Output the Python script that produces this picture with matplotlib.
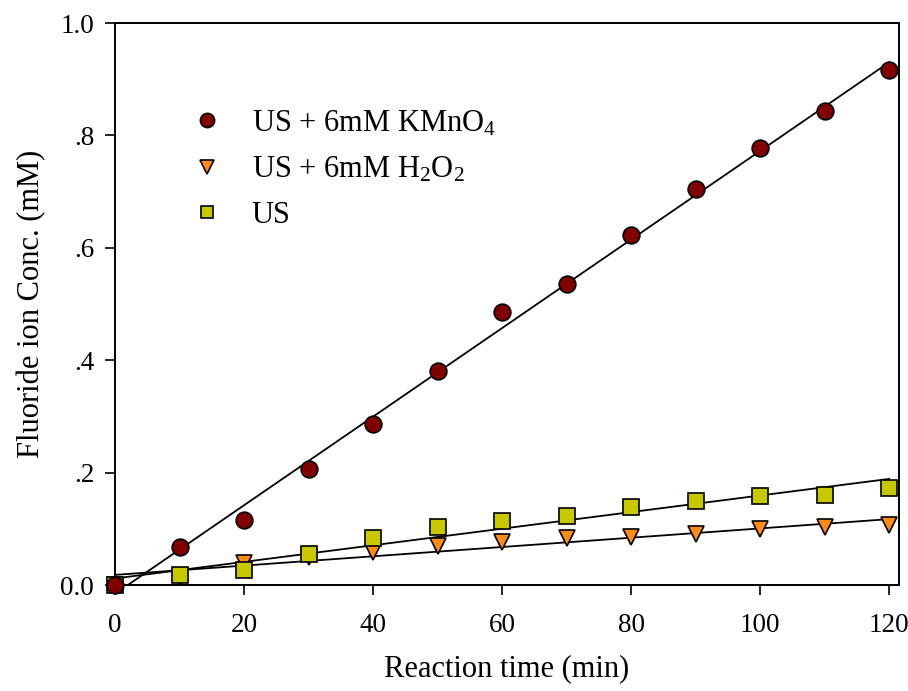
import numpy as np
import matplotlib
matplotlib.use("Agg")
import matplotlib.pyplot as plt

plt.rcParams['font.family'] = ['Liberation Serif', 'DejaVu Serif']
plt.rcParams['mathtext.fontset'] = 'custom'
plt.rcParams['mathtext.rm'] = 'Liberation Serif'
plt.rcParams['mathtext.it'] = 'Liberation Serif:italic'

time_min = [0, 10, 20, 30, 40, 50, 60, 70, 80, 90, 100, 110, 120]
kmno4 = [0.0, 0.068, 0.116, 0.206, 0.286, 0.381, 0.486, 0.536, 0.623, 0.705, 0.778, 0.843, 0.916]
h2o2 = [0.0, 0.015, 0.040, 0.050, 0.059, 0.069, 0.077, 0.084, 0.086, 0.090, 0.100, 0.103, 0.106]
us = [0.0, 0.018, 0.027, 0.055, 0.084, 0.103, 0.113, 0.123, 0.139, 0.149, 0.159, 0.161, 0.172]

labels = ['US + 6mM KMnO$_4$', 'US + 6mM H$_2$O$_2$', 'US']
colors = ['#800000', '#ff8c1a', '#c8c800']
markers = ['o', 'v', 's']
sizes = [12, 12, 11]
yticks = [0.0, 0.2, 0.4, 0.6, 0.8, 1.0]
ytick_labels = ['0.0', '.2', '.4', '.6', '.8', '1.0']
xticks = [0, 20, 40, 60, 80, 100, 120]

fig = plt.figure(figsize=(9.08, 6.91), dpi=100)
ax = fig.add_axes([0.1267, 0.1534, 0.8633, 0.8133])

x = np.array(time_min, dtype=float)
series_list = [kmno4, h2o2, us]

# fitted lines
xx = np.linspace(0, 120, 200)
for ys in series_list:
    p = np.polyfit(x, np.array(ys), 1)
    ax.plot(xx, np.polyval(p, xx), color='black', lw=1.3, zorder=2)

zorders = {0: 6, 1: 4, 2: 5}
handles = []
for i in range(3):
    h, = ax.plot(x, series_list[i], linestyle='none', marker=markers[i], markersize=sizes[i],
                 markerfacecolor=colors[i], markeredgecolor='black', markeredgewidth=1.2,
                 label=labels[i], zorder=zorders[i], clip_on=False)
    handles.append(h)

ax.set_xlim(0, 121.5)
ax.set_ylim(0, 1.0)
ax.set_xticks(xticks)
ax.set_yticks(yticks)
ax.set_yticklabels(ytick_labels)
ax.tick_params(axis='both', direction='out', length=7, width=1.2, labelsize=19.5)
ax.tick_params(axis='x', pad=13)
ax.tick_params(axis='y', pad=8)
for sp in ax.spines.values():
    sp.set_linewidth(1.4)

ax.set_xlabel('Reaction time (min)', fontsize=22, labelpad=12)
ax.set_ylabel('Fluoride ion Conc. (mM)', fontsize=22, labelpad=10)

leg = ax.legend(handles=handles, loc='upper left', bbox_to_anchor=(0.078, 0.875),
                frameon=False, fontsize=22, handlelength=1.0, handletextpad=0.97,
                labelspacing=0.55, markerscale=0.85, borderpad=0)

fig.savefig('out.png', dpi=100)
